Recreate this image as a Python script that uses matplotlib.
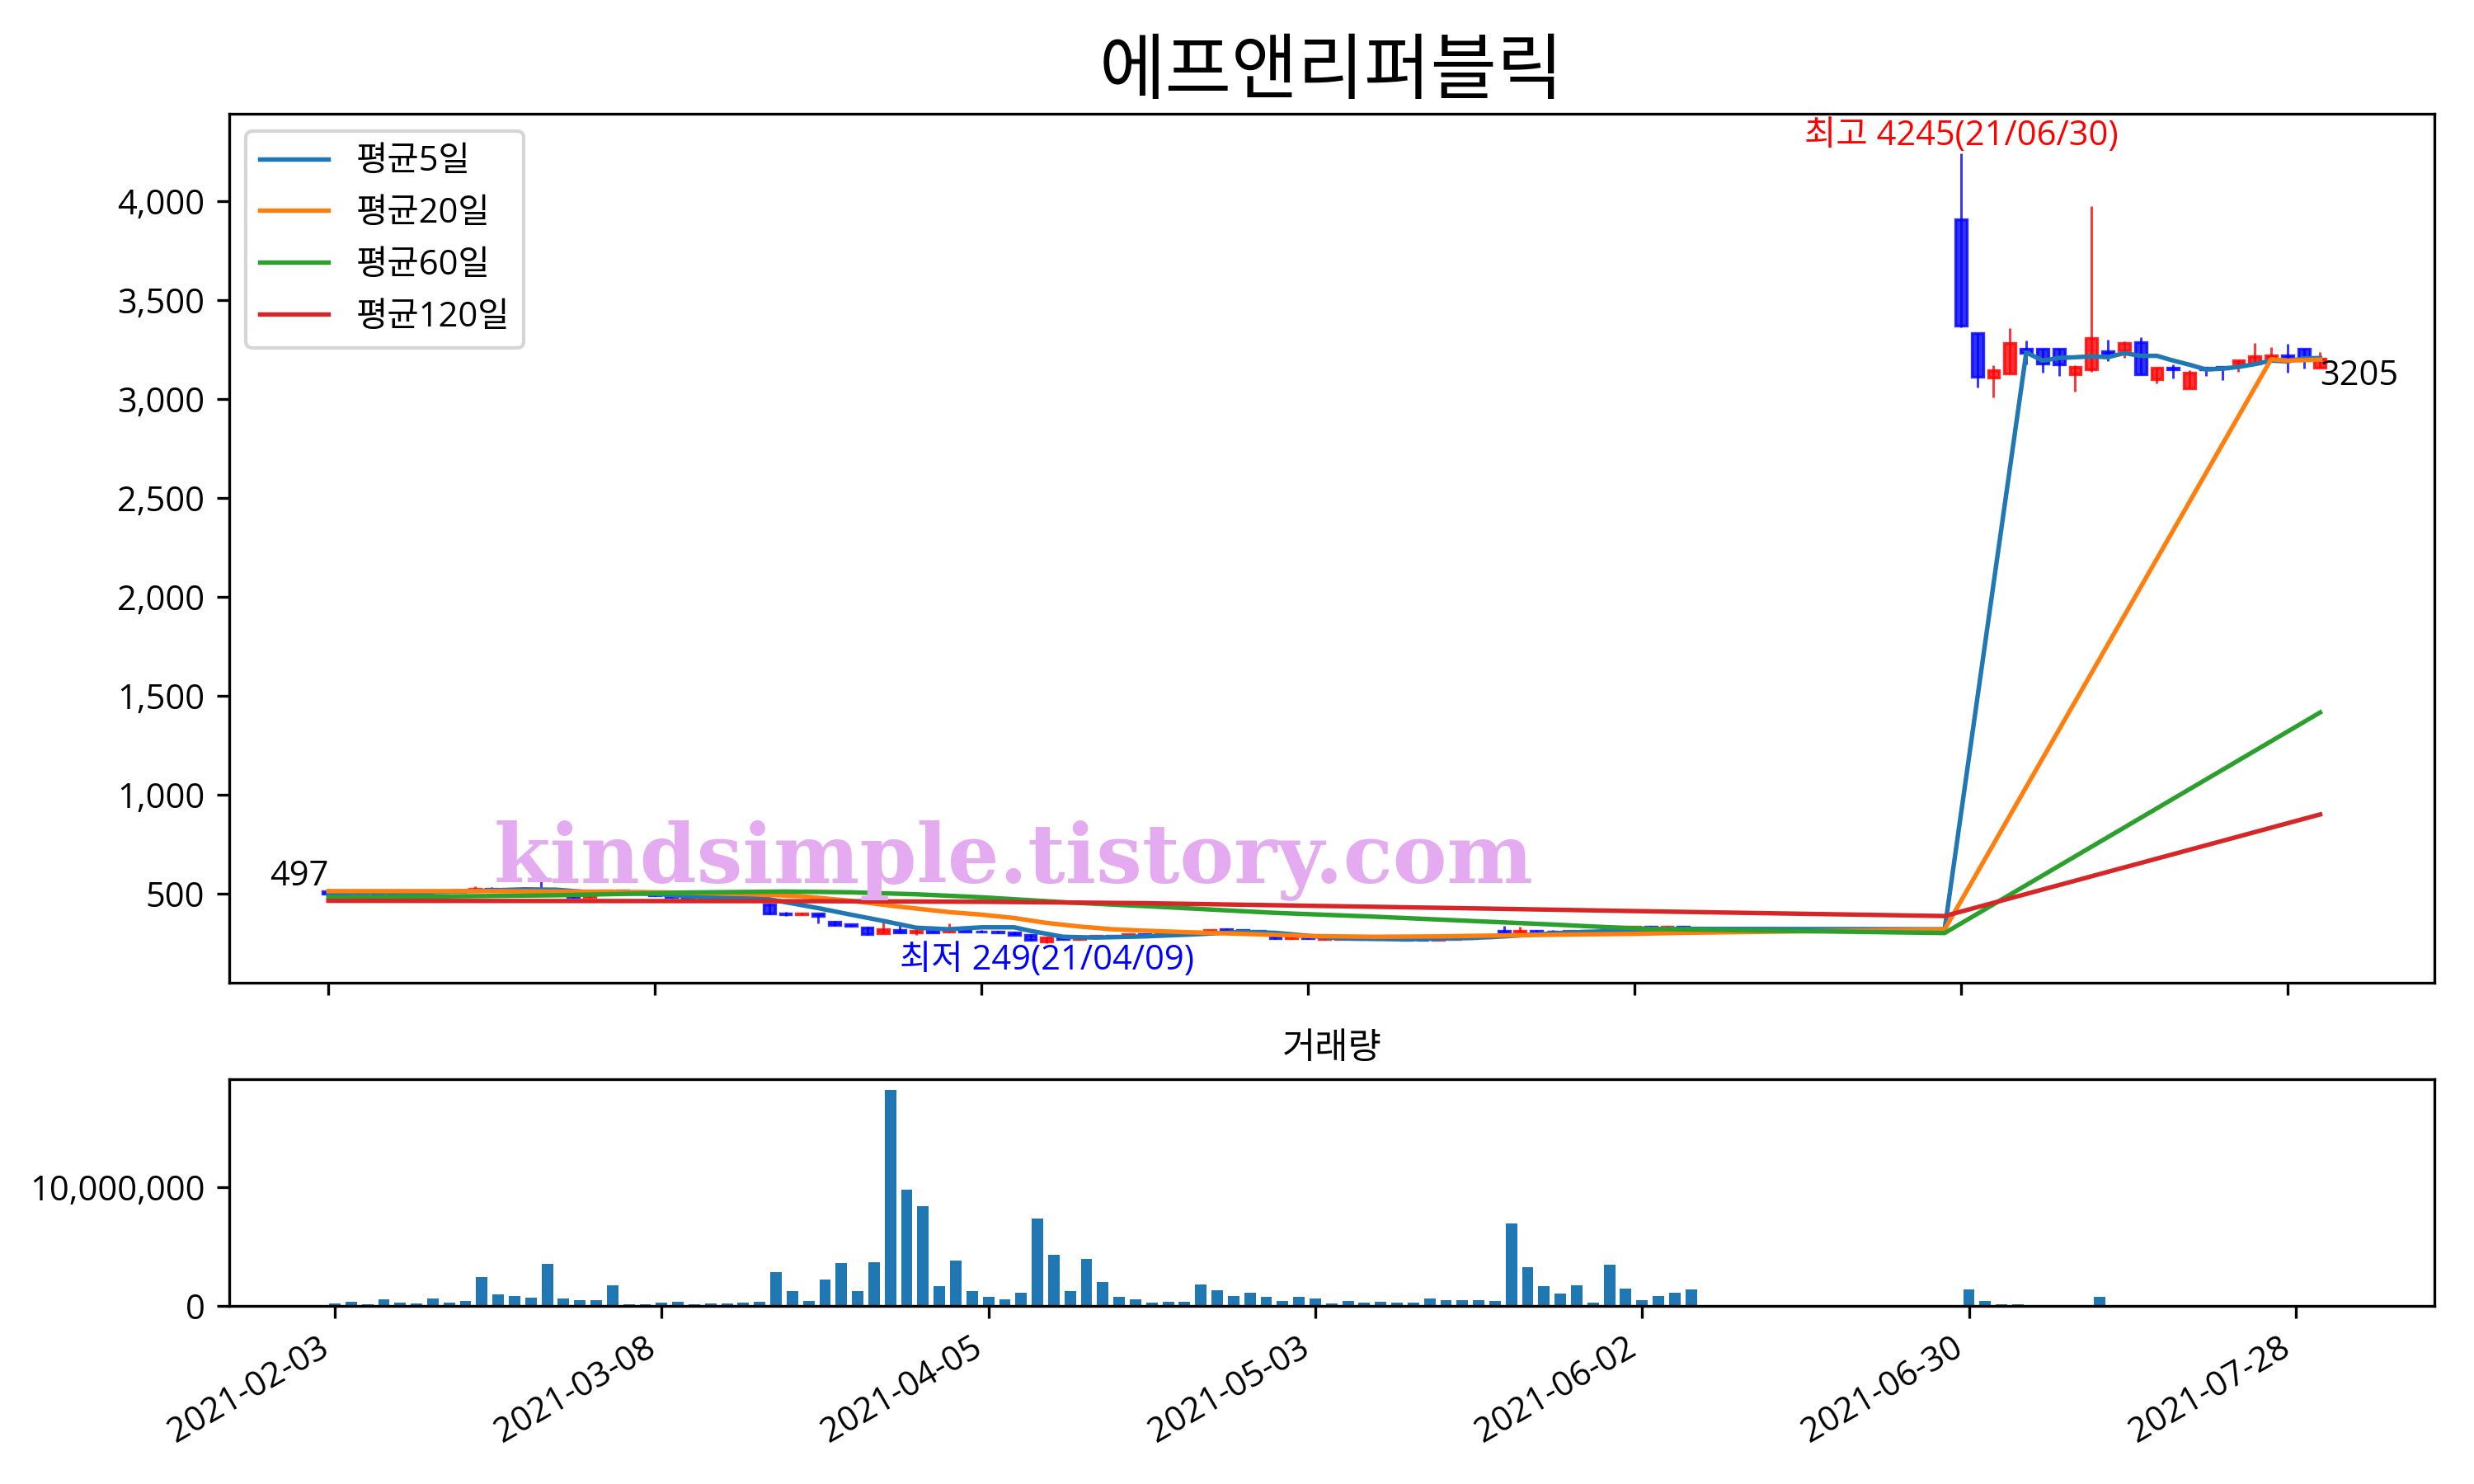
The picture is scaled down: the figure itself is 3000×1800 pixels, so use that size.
import numpy as np
import matplotlib
matplotlib.use('Agg')
import matplotlib.pyplot as plt
from matplotlib.ticker import MultipleLocator, FuncFormatter

# 한글 폰트 (영문/숫자는 Open Sans, 한글은 Noto Sans CJK KR)
plt.rcParams['font.family'] = ['Open Sans', 'Noto Sans CJK KR', 'DejaVu Sans']

title = '에프앤리퍼블릭'
date_ticks = ['2021-02-03', '2021-03-08', '2021-04-05', '2021-05-03',
              '2021-06-02', '2021-06-30', '2021-07-28']
n_days = 123  # 거래일 수 (2021-02-03 ~ 2021-07-30)

# 캔들 데이터 (거래정지 구간 84~99 제외)
candle_idx = list(range(0, 84)) + list(range(100, 123))
opens = [510, 497, 500, 503, 500, 505, 503, 508, 506, 515, 525, 520, 518, 520, 517, 505, 482, 500, 515, 511,
         505, 488, 482, 477, 480, 478, 475, 445, 398, 393, 396, 355, 343, 329, 299, 313, 302, 310, 305, 315,
         308, 305, 300, 288, 257, 278, 270, 280, 284, 282, 292, 290, 297, 300, 306, 317, 316, 309, 282, 272,
         282, 268, 270, 275, 270, 268, 270, 266, 264, 268, 272, 276, 310, 300, 312, 308, 306, 310, 312, 310,
         318, 330, 322, 332,
         3908, 3333, 3110, 3130, 3253, 3253, 3253, 3126, 3150, 3243, 3247, 3289, 3102, 3160, 3053, 3160,
         3162, 3181, 3181, 3207, 3222, 3253, 3160]
highs = [515, 505, 508, 510, 507, 512, 510, 515, 520, 535, 532, 528, 525, 562, 522, 508, 490, 518, 518, 515,
         508, 492, 485, 484, 486, 483, 482, 450, 405, 402, 398, 360, 345, 332, 368, 347, 318, 312, 347, 318,
         315, 312, 305, 292, 280, 282, 285, 290, 290, 295, 298, 300, 305, 310, 316, 322, 320, 312, 286, 284,
         285, 278, 282, 280, 276, 274, 275, 270, 272, 276, 280, 284, 337, 330, 316, 314, 312, 316, 318, 322,
         334, 335, 334, 336,
         4245, 3333, 3170, 3358, 3296, 3253, 3253, 3171, 3978, 3301, 3292, 3313, 3157, 3174, 3146, 3165,
         3166, 3195, 3285, 3264, 3281, 3253, 3239]
lows = [495, 490, 495, 498, 495, 500, 498, 503, 503, 512, 515, 512, 510, 515, 500, 478, 478, 498, 508, 500,
        485, 478, 474, 472, 474, 470, 470, 395, 385, 390, 347, 335, 330, 290, 296, 297, 290, 300, 302, 305,
        300, 296, 288, 262, 249, 268, 266, 276, 278, 280, 286, 288, 292, 296, 302, 308, 306, 298, 270, 268,
        270, 265, 266, 266, 264, 262, 263, 260, 260, 264, 268, 272, 288, 298, 303, 302, 302, 306, 306, 308,
        316, 318, 320, 322,
        3365, 3059, 3010, 3130, 3174, 3135, 3116, 3038, 3139, 3192, 3209, 3126, 3080, 3104, 3053, 3119,
        3098, 3139, 3181, 3202, 3133, 3153, 3160]
closes = [497, 500, 503, 500, 505, 503, 508, 506, 515, 525, 520, 518, 520, 517, 505, 482, 486, 515, 511, 505,
          488, 482, 477, 480, 478, 475, 478, 398, 394, 398, 384, 341, 335, 293, 320, 300, 310, 303, 315, 308,
          305, 300, 290, 264, 278, 270, 282, 284, 282, 292, 290, 297, 300, 306, 313, 310, 309, 300, 274, 280,
          272, 275, 278, 270, 268, 270, 266, 264, 268, 272, 276, 280, 300, 310, 305, 306, 310, 312, 310, 318,
          330, 322, 332, 326,
          3371, 3111, 3145, 3282, 3232, 3181, 3174, 3163, 3310, 3229, 3282, 3126, 3157, 3150, 3136, 3152,
          3155, 3195, 3218, 3222, 3212, 3202, 3205]

# 거래량 (백만 주)
volume_m = [0.19, 0.32, 0.12, 0.53, 0.25, 0.19, 0.60, 0.25, 0.39, 2.41, 0.95, 0.81, 0.67, 3.52, 0.60, 0.46,
            0.46, 1.71, 0.12, 0.12, 0.25, 0.32, 0.12, 0.19, 0.19, 0.25, 0.32, 2.82, 1.23, 0.39, 2.20, 3.59,
            1.23, 3.66, 18.17, 9.77, 8.38, 1.64, 3.80, 1.23, 0.74, 0.53, 1.09, 7.34, 4.28, 1.23, 3.94, 1.99,
            0.74, 0.53, 0.25, 0.32, 0.32, 1.78, 1.30, 0.81, 1.09, 0.74, 0.39, 0.74, 0.60, 0.19, 0.39, 0.25,
            0.32, 0.25, 0.25, 0.60, 0.46, 0.46, 0.46, 0.39, 6.92, 3.24, 1.64, 1.02, 1.71, 0.25, 3.45, 1.44,
            0.46, 0.81, 1.09, 1.37,
            0, 0, 0, 0, 0, 0, 0, 0, 0, 0, 0, 0, 0, 0, 0, 0,
            1.37, 0.39, 0.12, 0.12, 0.03, 0.03, 0.03, 0.03, 0.74, 0.03, 0.02, 0.03, 0.03, 0.02, 0.02, 0.02,
            0.02, 0.03, 0.02, 0.02, 0.02, 0.02, 0.02]

# 이동평균선 (인덱스, 값)
ma5_idx = [0, 3, 6, 9, 12, 14, 16, 18, 20, 22, 24, 26, 27, 28, 30, 32, 34, 36, 38, 40, 42, 43, 45, 47, 50,
           53, 56, 58, 60, 62, 66, 70, 72, 76, 78, 80, 83, 99, 104, 105, 106, 107, 108, 109, 110, 111, 112,
           113, 114, 115, 116, 117, 118, 119, 120, 121, 122]
ma5_val = [500, 503, 505, 512, 520, 518, 505, 500, 497, 485, 478, 476, 470, 455, 425, 392, 360, 326, 318, 328,
           328, 310, 280, 276, 282, 292, 305, 300, 285, 272, 267, 274, 282, 302, 307, 315, 320, 318, 3236, 3195,
           3208, 3212, 3216, 3212, 3233, 3219, 3219, 3195, 3174, 3150, 3154, 3163, 3177, 3195, 3191, 3206, 3208]
ma20_idx = [0, 10, 18, 22, 26, 29, 32, 35, 38, 40, 42, 44, 46, 48, 50, 53, 56, 60, 64, 68, 72, 76, 80, 83,
            99, 119, 120, 121, 122]
ma20_val = [511, 511, 507, 503, 495, 485, 462, 432, 405, 392, 375, 350, 332, 318, 311, 302, 295, 284, 280,
            282, 287, 291, 295, 300, 317, 3202, 3195, 3197, 3200]
ma60_idx = [0, 7, 14, 22, 28, 32, 36, 40, 45, 51, 58, 64, 70, 75, 78, 81, 83, 99, 122]
ma60_val = [479, 484, 490, 504, 509, 505, 495, 480, 455, 431, 401, 382, 360, 342, 330, 320, 317, 299, 1415]
ma120_idx = [0, 30, 40, 50, 60, 70, 80, 83, 99, 122]
ma120_val = [462, 460, 457, 450, 437, 424, 410, 406, 385, 899]

ma_lines = [('평균5일', ma5_idx, ma5_val, 'tab:blue'),
            ('평균20일', ma20_idx, ma20_val, 'tab:orange'),
            ('평균60일', ma60_idx, ma60_val, 'tab:green'),
            ('평균120일', ma120_idx, ma120_val, 'tab:red')]

fig = plt.figure(figsize=(10, 6), dpi=300)
ax = fig.add_axes([0.0925, 0.338, 0.8915, 0.5855])
ax2 = fig.add_axes([0.0925, 0.12, 0.8915, 0.153])

# 캔들 (상승 빨강, 하락 파랑)
o = np.array(opens, dtype=float)
h = np.array(highs, dtype=float)
l = np.array(lows, dtype=float)
c = np.array(closes, dtype=float)
cols = ['r' if cc >= oo else 'b' for oo, cc in zip(o, c)]
ax.vlines(candle_idx, l, h, colors=cols, linewidth=0.7, alpha=0.8, zorder=2)
ax.bar(candle_idx, np.abs(c - o), bottom=np.minimum(o, c), width=0.7, color=cols,
       edgecolor=cols, linewidth=0.8, alpha=0.8, zorder=2)

for name, xs, ys, col in ma_lines:
    ax.plot(xs, ys, color=col, linewidth=1.3, label=name, zorder=3)

# 최고/최저 표시
i_max = int(np.argmax(h))
i_min = int(np.argmin(l))
ax.text(candle_idx[i_max], h[i_max], '최고 %d(21/06/30)' % h[i_max], color='red',
        ha='center', va='bottom', fontsize=10)
ax.text(candle_idx[i_min], l[i_min], '최저 %d(21/04/09)' % l[i_min], color='blue',
        ha='center', va='top', fontsize=10)
ax.text(candle_idx[0], c[0], '%d' % c[0], ha='right', va='bottom', fontsize=10)
ax.text(candle_idx[-1], c[-1], '%d' % c[-1], ha='left', va='top', fontsize=10)

ax.text(0.356, 0.14, 'kindsimple.tistory.com', transform=ax.transAxes, ha='center', va='center',
        fontsize=23.7, color='#E4ABF0', fontweight='bold', family='DejaVu Serif', zorder=5)

ax.set_title(title, fontsize=21)
ax.legend(loc='upper left', fontsize=10)
ax.set_xlim(-6.1, 129.0)
tick_pos = [i * 20 for i in range(len(date_ticks))]
ax.set_xticks(tick_pos)
ax.tick_params(labelbottom=False, labelsize=10)
ax.yaxis.set_major_locator(MultipleLocator(500))
ax.yaxis.set_major_formatter(FuncFormatter(lambda v, p: '{:,.0f}'.format(v)))

# 거래량
ax2.bar(range(n_days), np.array(volume_m) * 1e6, width=0.7, color='tab:blue')
ax2.set_title('거래량', fontsize=10.5)
ax2.set_xticks(tick_pos)
ax2.set_xticklabels(date_ticks, rotation=30, ha='right')
ax2.tick_params(labelsize=10)
ax2.yaxis.set_major_locator(MultipleLocator(1e7))
ax2.yaxis.set_major_formatter(FuncFormatter(lambda v, p: '{:,.0f}'.format(v)))

fig.savefig('out.png', dpi=300)
